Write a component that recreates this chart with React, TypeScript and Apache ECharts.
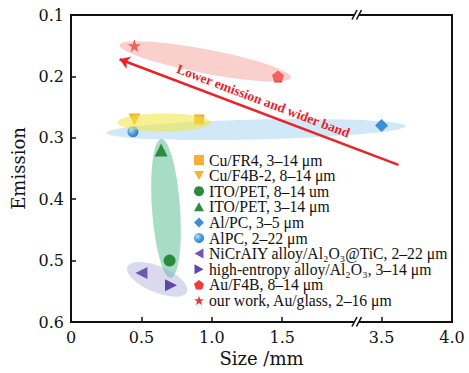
import React, { useEffect, useRef } from 'react';
import * as echarts from 'echarts';

// ---------------- data ----------------
const seriesNames = [
  'Cu/FR4, 3–14 μm',
  'Cu/F4B-2, 8–14 μm',
  'ITO/PET, 8–14 um',
  'ITO/PET, 3–14 μm',
  'Al/PC, 3–5 μm',
  'AlPC, 2–22 μm',
  'NiCrAIY alloy/Al₂O₃@TiC, 2–22 μm',
  'high-entropy alloy/Al₂O₃, 3–14 μm',
  'Au/F4B, 8–14 μm',
  'our work, Au/glass, 2–16 μm',
];
const sizeMm = [0.91, 0.45, 0.7, 0.64, 3.5, 0.44, 0.5, 0.71, 1.47, 0.45];
const emission = [0.27, 0.27, 0.5, 0.32, 0.28, 0.29, 0.52, 0.54, 0.2, 0.15];

const xTickValues = [0, 0.5, 1.0, 1.5, 3.5, 4.0];
const xBreakStart = 2.0;
const xBreakEnd = 3.365;

// shaded groups (end points of each ellipse's long axis, in data units)
const groupX1 = [0.345, 0.331, 0.254, 0.641, 0.401];
const groupY1 = [0.149, 0.275, 0.292, 0.302, 0.51];
const groupX2 = [1.563, 0.993, 3.67, 0.709, 0.824];
const groupY2 = [0.202, 0.275, 0.281, 0.528, 0.551];

const trendFrom = [3.62, 0.344];
const trendTo = [0.345, 0.172];
const trendText = 'Lower emission and wider band';

// ---------------- styles ----------------
const PENTAGON = 'path://M50,0 L97.6,34.5 L79.4,90.5 L20.6,90.5 L2.4,34.5 Z';
const STAR =
  'path://M50,0 L61.8,35.3 L98.9,35.3 L68.9,57.1 L80.3,92.7 L50,70.9 L19.7,92.7 L31.1,57.1 L1.1,35.3 L38.2,35.3 Z';
const TRI_UP = 'path://M50,0 L100,90 L0,90 Z';
const TRI_DOWN = 'path://M0,0 L100,0 L50,90 Z';
const TRI_LEFT = 'path://M90,0 L90,100 L0,50 Z';
const TRI_RIGHT = 'path://M0,0 L90,50 L0,100 Z';

const sphere = new echarts.graphic.RadialGradient(0.35, 0.35, 0.7, [
  { offset: 0, color: '#b9e0fa' },
  { offset: 0.45, color: '#5aa8e6' },
  { offset: 1, color: '#2a78c4' },
]);

const markerStyles: any[] = [
  { symbol: 'rect', color: '#f5b03a', size: 10 },
  { symbol: TRI_DOWN, color: '#f5b431', size: 12 },
  { symbol: 'circle', color: '#2b8a3e', size: 12 },
  { symbol: TRI_UP, color: '#2e8b40', size: 13 },
  { symbol: 'diamond', color: '#3d8fd6', size: 13 },
  { symbol: 'circle', color: sphere, size: 11 },
  { symbol: TRI_LEFT, color: '#6f58ad', size: 12 },
  { symbol: TRI_RIGHT, color: '#5d47a8', size: 12 },
  { symbol: PENTAGON, color: '#f03a3a', size: 12 },
  { symbol: STAR, color: '#e8393b', size: 13 },
];

const ellipseFill = [
  'rgba(243,150,145,0.45)',
  'rgba(240,230,60,0.55)',
  'rgba(150,205,238,0.45)',
  'rgba(80,185,140,0.5)',
  'rgba(165,160,212,0.4)',
];
const ellipseHalf = [12, 9, 10, 14, 13];
const ellipseOnTop = [true, true, false, false, false];

const SERIF = 'DejaVu Serif';
const INK = '#111';

const renderBand = (_params: any, api: any) => {
  const i = api.value(4);
  const p1 = api.coord([api.value(0), api.value(1)]);
  const p2 = api.coord([api.value(2), api.value(3)]);
  const dx = p2[0] - p1[0];
  const dy = p2[1] - p1[1];
  return {
    type: 'ellipse',
    x: (p1[0] + p2[0]) / 2,
    y: (p1[1] + p2[1]) / 2,
    rotation: -Math.atan2(dy, dx),
    shape: { cx: 0, cy: 0, rx: Math.hypot(dx, dy) / 2, ry: ellipseHalf[i] },
    style: { fill: ellipseFill[i] },
    silent: true,
  };
};

const bandData = (top: boolean) =>
  groupX1
    .map((_, i) => [groupX1[i], groupY1[i], groupX2[i], groupY2[i], i])
    .filter((d) => ellipseOnTop[d[4] as number] === top);

function breakMark(y: number) {
  return [
    { type: 'rect', z: 100, shape: { x: 354, y: y - 2.5, width: 5, height: 5 }, style: { fill: '#fff' } },
    { type: 'line', z: 101, shape: { x1: 352, y1: y + 4.5, x2: 357, y2: y - 5 }, style: { stroke: INK, lineWidth: 1.6 } },
    { type: 'line', z: 101, shape: { x1: 356.5, y1: y + 4.5, x2: 361.5, y2: y - 5 }, style: { stroke: INK, lineWidth: 1.6 } },
  ];
}

export default function App() {
  const ref = useRef<HTMLDivElement>(null);

  useEffect(() => {
    if (!ref.current) return;
    const chart = echarts.init(ref.current, null, { renderer: 'svg' });

    const scatterSeries = seriesNames.map((name, i) => ({
      name,
      type: 'scatter',
      z: 3,
      symbol: markerStyles[i].symbol,
      symbolSize: markerStyles[i].size,
      itemStyle: { color: markerStyles[i].color, opacity: 1 },
      data: [[sizeMm[i], emission[i]]],
    }));

    const option: any = {
      animation: false,
      backgroundColor: '#fff',
      grid: {
        left: 71,
        right: 17,
        top: 15,
        bottom: 51,
        show: true,
        borderColor: INK,
        borderWidth: 2,
        outerBoundsMode: 'none',
      },
      legend: {
        data: seriesNames,
        orient: 'vertical',
        left: 189,
        top: 147,
        itemWidth: 10,
        itemHeight: 10,
        itemGap: -0.4,
        textStyle: { fontFamily: 'Liberation Serif', fontSize: 15.7, color: INK, lineHeight: 14 },
        selectedMode: false,
      },
      xAxis: {
        type: 'value',
        min: 0,
        max: 4,
        breaks: [{ start: xBreakStart, end: xBreakEnd, gap: '2.6%' }],
        breakArea: {
          show: false,
          itemStyle: { opacity: 0, color: 'rgba(0,0,0,0)', borderColor: 'rgba(0,0,0,0)', borderWidth: 0 },
          expandOnClick: false,
        },
        name: 'Size /mm',
        nameLocation: 'middle',
        nameGap: 23,
        nameTextStyle: { fontFamily: SERIF, fontSize: 18, color: INK },
        axisLine: { show: true, lineStyle: { color: INK, width: 2 } },
        axisTick: { show: true, inside: true, length: 5, customValues: xTickValues, lineStyle: { color: INK, width: 1.5 } },
        axisLabel: {
          customValues: xTickValues,
          fontFamily: SERIF,
          fontSize: 16,
          color: INK,
          margin: 7,
          formatter: (v: number) => (v === 0 ? '0' : v.toFixed(1)),
        },
        splitLine: { show: false },
      },
      yAxis: {
        type: 'value',
        inverse: true,
        min: 0.1,
        max: 0.6,
        interval: 0.1,
        name: 'Emission',
        nameLocation: 'middle',
        nameGap: 33,
        nameTextStyle: { fontFamily: SERIF, fontSize: 18, color: INK },
        axisLine: { show: true, lineStyle: { color: INK, width: 2 } },
        axisTick: { show: true, inside: true, length: 5, lineStyle: { color: INK, width: 1.5 } },
        axisLabel: {
          fontFamily: SERIF,
          fontSize: 16,
          color: INK,
          margin: 7,
          formatter: (v: number) => v.toFixed(1),
        },
        splitLine: { show: false },
      },
      series: [
        {
          type: 'custom',
          name: 'bands-below',
          z: 1,
          silent: true,
          renderItem: renderBand,
          encode: { x: [0, 2], y: [1, 3] },
          data: bandData(false),
        },
        ...scatterSeries,
        {
          type: 'custom',
          name: 'bands-above',
          z: 4,
          silent: true,
          renderItem: renderBand,
          encode: { x: [0, 2], y: [1, 3] },
          data: bandData(true),
          markLine: {
            silent: true,
            symbol: ['none', 'arrow'],
            symbolSize: 10,
            lineStyle: { color: '#e8232a', width: 2.5, type: 'solid' },
            label: {
              show: true,
              position: 'insideMiddleTop',
              formatter: trendText,
              color: '#e8232a',
              fontFamily: 'Liberation Serif',
              fontWeight: 'bold',
              fontSize: 13.5,
              distance: 5,
            },
            data: [[{ coord: trendFrom }, { coord: trendTo }]],
          },
        },
      ],
      graphic: [...breakMark(15), ...breakMark(322)],
    };

    chart.setOption(option);
    return () => chart.dispose();
  }, []);

  return (
    <div
      ref={ref}
      style={{ position: 'fixed', left: 0, top: 0, width: 469, height: 373, background: '#fff' }}
    />
  );
}
